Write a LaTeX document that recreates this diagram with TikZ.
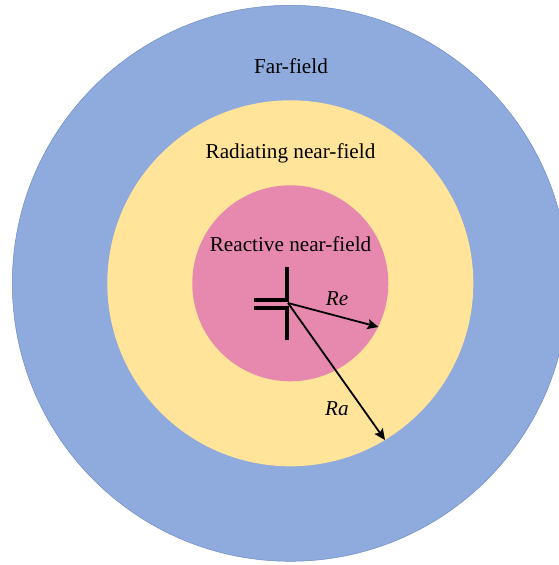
\documentclass[tikz,border=0pt]{standalone}
\usepackage{fontspec}
\setmainfont{Liberation Serif}
\usetikzlibrary{arrows.meta}
\definecolor{farfill}{RGB}{143,170,220}
\definecolor{farline}{RGB}{110,140,200}
\definecolor{midfill}{RGB}{255,228,153}
\definecolor{infill}{RGB}{231,136,174}
\tikzset{
 field/.style={circle,inner sep=0pt,minimum size=#1},
 lab/.style={inner sep=0pt,font=\fontsize{21.2pt}{25pt}\selectfont},
 itlab/.style={inner sep=0pt,font=\fontsize{21.2pt}{25pt}\selectfont\itshape},
 dip/.style={line width=4pt,black},
 rad/.style={line width=1.8pt,black,-{Stealth[length=11pt,width=10pt,inset=2pt]}}
}
\begin{document}
\begin{tikzpicture}[x=1pt,y=-1pt]
\useasboundingbox (0,0) rectangle (559,565);
\begin{scope}
\clip (0,0) rectangle (559,565);
\node[field=556pt,fill=farfill,draw=farline,line width=0.5pt] (far) at (290.3,283.3) {};
\end{scope}
\node[field=366pt,fill=midfill] (mid) at (290.3,283.3) {};
\node[field=196pt,fill=infill] (in) at (290.3,283.3) {};
\node[lab] (t1) at (291,66) {Far-field};
\node[lab] (t2) at (290.5,153.5) {Radiating near-field};
\node[lab] (t3) at (290.5,244) {Reactive near-field};
\node[itlab] (t4) at (337,299) {Re};
\node[itlab] (t5) at (337,409) {Ra};
\coordinate (o) at (288,303);
\coordinate (v1) at (287.3,267);
\coordinate (v2) at (287.3,300.2);
\coordinate (v3) at (287.3,307.6);
\coordinate (v4) at (287.3,340);
\coordinate (h1) at (254,300.2);
\coordinate (h2) at (254,307.6);
\draw[dip] (v1)--(v2)--(h1);
\draw[dip] (v4)--(v3)--(h2);
\coordinate (e) at (378.5,327);
\coordinate (a) at (385,440);
\draw[rad] (o)--(e);
\draw[rad] (o)--(a);
\end{tikzpicture}
\end{document}
